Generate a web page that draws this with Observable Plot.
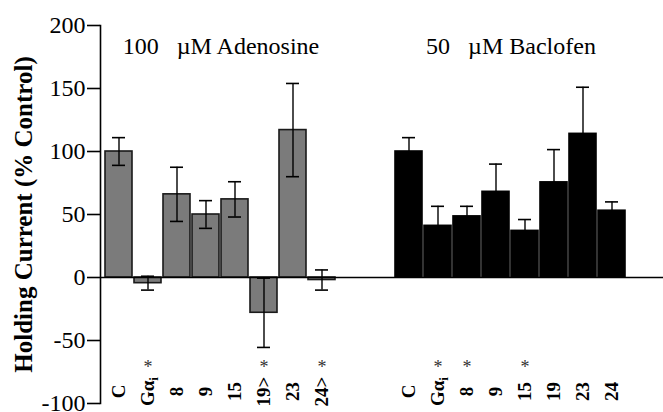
<!DOCTYPE html>
<html><head><meta charset="utf-8">
<script src="https://cdn.jsdelivr.net/npm/d3@7"></script>
<script src="https://cdn.jsdelivr.net/npm/@observablehq/plot@0.6"></script>
<style>
body{margin:0;background:#fff}
</style>
</head><body><div id="chart"></div>
<script>
const adenosineLabels = ["C","Gαᵢ","8","9","15","19>","23","24>"];
const adenosineMeans = [100,-4.5,66,50,62,-28,117,-2];
const adenosineErrors = [11,5.5,21.5,11,14,27.5,37,8];
const adenosineSig = [false,true,false,false,false,true,false,true];
const baclofenLabels = ["C","Gαᵢ","8","9","15","19","23","24"];
const baclofenMeans = [100,41,48.5,68,37,75.5,114,53];
const baclofenErrors = [11,15.5,8,22,9,26,37,7];
const baclofenSig = [false,true,true,false,true,false,false,false];
const groupTitles = ["100\u00a0\u00a0\u00a0µM Adenosine","50\u00a0\u00a0\u00a0µM Baclofen"];
const yTicks = [-100,-50,0,50,100,150,200];
const yTitle = "Holding Current (% Control)";

const rows = [
  ...adenosineLabels.map((label,i)=>({key:"A"+i,label,mean:adenosineMeans[i],err:adenosineErrors[i],sig:adenosineSig[i],group:"A"})),
  ...baclofenLabels.map((label,i)=>({key:"B"+i,label,mean:baclofenMeans[i],err:baclofenErrors[i],sig:baclofenSig[i],group:"B"}))
];
const domain = [...rows.filter(d=>d.group==="A").map(d=>d.key),"gap1","gap2",...rows.filter(d=>d.group==="B").map(d=>d.key)];
const titles = [{key:"A3",text:groupTitles[0]},{key:"B3",text:groupTitles[1]}];
const serif = "Liberation Serif";

const chart = Plot.plot({
  width: 663, height: 412,
  marginLeft: 100, marginRight: 0, marginTop: 25, marginBottom: 9,
  style: {color: "#000", background: "#fff", overflow: "visible"},
  x: {type: "band", domain, range: [102, 627], paddingInner: 0.07, paddingOuter: 0.035, axis: null},
  y: {domain: [-100, 200], ticks: yTicks},
  marks: [
    Plot.frame({anchor: "left", strokeWidth: 1.6}),
    Plot.axisY({ticks: yTicks, tickSize: 13, tickPadding: 2, fontSize: 24, tickFormat: d => String(d), label: null, strokeWidth: 1.6}),
    Plot.barY(rows, {x: "key", y: "mean", fill: d => d.group === "A" ? "#7b7b7b" : "#000", stroke: d => d.group === "A" ? "#1a1a1a" : "#000", strokeWidth: 1.6}),
    Plot.ruleY([0], {strokeWidth: 1.6}),
    Plot.ruleX(rows, {x: "key", y1: d => d.mean - d.err, y2: d => d.mean + d.err, strokeWidth: 1.4}),
    Plot.tickY(rows, {x: "key", y: d => d.mean + d.err, insetLeft: 7, insetRight: 7, strokeWidth: 1.6}),
    Plot.tickY(rows, {x: "key", y: d => d.mean - d.err, insetLeft: 7, insetRight: 7, strokeWidth: 1.6}),
    Plot.text(rows, {x: "key", text: "label", frameAnchor: "bottom", dy: -12, rotate: -90, fontSize: 19, fontWeight: "bold", textAnchor: "middle", lineAnchor: "middle"}),
    Plot.text(rows.filter(d => d.sig), {x: "key", text: () => "*", frameAnchor: "bottom", dy: -36, fontSize: 18, textAnchor: "middle", lineAnchor: "middle", fill: "#333"}),
    Plot.text(titles, {x: "key", text: "text", frameAnchor: "top", dx: 15, dy: 20.5, fontSize: 24, textAnchor: "middle", lineAnchor: "middle"}),
    Plot.text([yTitle], {frameAnchor: "left", dx: -77, rotate: -90, fontSize: 25, fontWeight: "bold", textAnchor: "middle", lineAnchor: "middle"})
  ]
});
chart.style.setProperty("font-family", serif, "important");
chart.querySelectorAll("g, text").forEach(el => {
  el.setAttribute("font-family", serif);
  el.style.setProperty("font-family", serif, "important");
});
// subscript i for G-alpha
chart.querySelectorAll("text").forEach(t => {
  if (t.textContent === "Gαᵢ") {
    t.textContent = "Gα";
    const s = document.createElementNS("http://www.w3.org/2000/svg", "tspan");
    s.setAttribute("dy", "0.3em");
    s.setAttribute("font-size", "13");
    s.textContent = "i";
    t.appendChild(s);
  }
});
document.getElementById("chart").appendChild(chart);
</script>
</body></html>
